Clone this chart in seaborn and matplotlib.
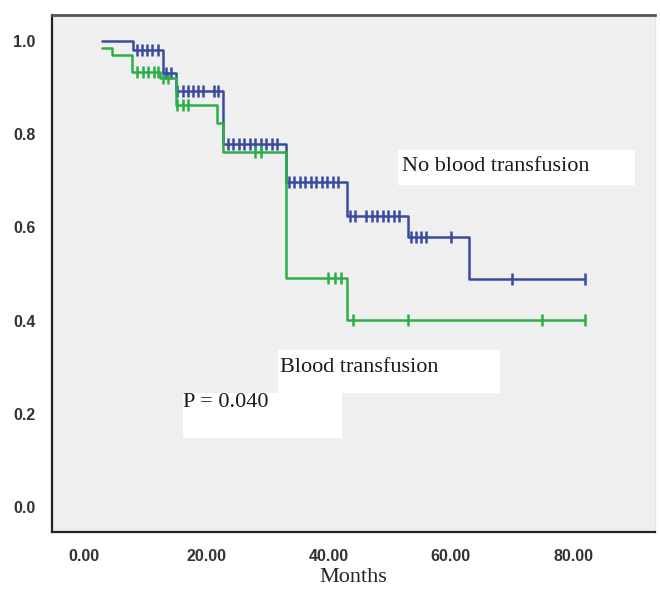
import numpy as np
import pandas as pd
import matplotlib
matplotlib.use('Agg')
import matplotlib.pyplot as plt
import seaborn as sns
from matplotlib.patches import Rectangle

# Curvas de sobrevida (Kaplan-Meier)
nobt_times = [3, 8, 13, 15, 22.8, 33, 43, 53, 63, 82]
nobt_surv = [1.0, 0.98, 0.931, 0.893, 0.779, 0.698, 0.625, 0.579, 0.489, 0.489]
nobt_censor = [8.7, 9.5, 10.3, 11.2, 12.1, 13.5, 14.3,
               15.3, 16.2, 17.0, 17.8, 18.7, 19.5, 21.3, 22.0,
               23.5, 24.4, 25.3, 26.2, 27.1, 28.0, 28.9, 29.8, 30.7, 31.6,
               33.5, 34.4, 35.3, 36.2, 37.1, 38.0, 38.9, 39.8, 40.7, 41.6,
               43.5, 44.3, 46.2, 47.1, 48.0, 48.9, 49.8, 50.7, 51.6,
               53.5, 54.3, 55.1, 56.0, 60.0, 70.0, 82.0]

bt_times = [3, 4.6, 7.9, 12.5, 15, 21.8, 22.8, 33, 43, 82]
bt_surv = [0.985, 0.97, 0.934, 0.92, 0.862, 0.824, 0.762, 0.491, 0.401, 0.401]
bt_censor = [8.7, 9.6, 10.5, 11.4, 12.2, 13.0, 13.8, 15.3, 16.2, 17.0,
             28.0, 29.0, 40.0, 41.0, 42.0, 44.0, 53.0, 75.0, 82.0]

x_ticks = [0, 20, 40, 60, 80]
x_labels = ['0.00', '20.00', '40.00', '60.00', '80.00']
y_ticks = [0.0, 0.2, 0.4, 0.6, 0.8, 1.0]
y_labels = ['0.0', '0.2', '0.4', '0.6', '0.8', '1.0']

BLUE = '#3a4a9f'
GREEN = '#2aae4a'


def censor_points(times, surv, cens):
    idx = np.searchsorted(times, cens, side='right') - 1
    return pd.DataFrame({'t': cens, 's': np.asarray(surv)[idx]})


sns.set_style('white')
fig = plt.figure(figsize=(6.6, 5.96), dpi=100)
ax = fig.add_axes([52 / 660, 1 - 532 / 596, 603 / 660, 517 / 596])
ax.set_facecolor('#efefef')

for times, surv, cens, col in [(nobt_times, nobt_surv, nobt_censor, BLUE),
                               (bt_times, bt_surv, bt_censor, GREEN)]:
    df = pd.DataFrame({'t': times, 's': surv})
    sns.lineplot(data=df, x='t', y='s', ax=ax, color=col, linewidth=1.8,
                 drawstyle='steps-post', estimator=None, sort=False)
    cp = censor_points(times, surv, cens)
    sns.scatterplot(data=cp, x='t', y='s', ax=ax, marker='|', color=col,
                    s=80, linewidth=1.8)

ax.set_xlim(-5.2, 93.4)
ax.set_ylim(-0.054, 1.056)
ax.set_xticks(x_ticks)
ax.set_xticklabels(x_labels)
ax.set_yticks(y_ticks)
ax.set_yticklabels(y_labels)
ax.tick_params(axis='both', direction='out', length=9, width=1.5, color='#222222',
               labelsize=11.5, labelcolor='#333333', pad=3)
for lab in ax.get_xticklabels() + ax.get_yticklabels():
    lab.set_fontfamily('Liberation Sans')
    lab.set_fontweight('bold')
ax.set_ylabel('')
ax.set_xlabel('Months', family='Liberation Serif', fontsize=16, labelpad=3)

for side in ['left', 'bottom']:
    ax.spines[side].set_color('#222222')
    ax.spines[side].set_linewidth(1.6)
ax.spines['top'].set_color('#555555')
ax.spines['top'].set_linewidth(2)
ax.spines['right'].set_color('#e4e4e4')
ax.spines['right'].set_linewidth(1)

# caixas brancas das legendas
boxes = [(51.3, 0.691, 38.9, 0.075), (31.7, 0.245, 36.3, 0.092), (16.2, 0.148, 26.0, 0.097)]
for x0, y0, w, h in boxes:
    ax.add_patch(Rectangle((x0, y0), w, h, facecolor='white', edgecolor='none', zorder=1.5))

txt = dict(family='Liberation Serif', fontsize=16, color='#1a1a1a', va='center', ha='left', zorder=3)
ax.text(52.1, 0.730, 'No blood transfusion', **txt)
ax.text(32.0, 0.300, 'Blood transfusion', **txt)
ax.text(16.2, 0.223, 'P = 0.040', **txt)

plt.savefig('out.png', dpi=100)
plt.close()
